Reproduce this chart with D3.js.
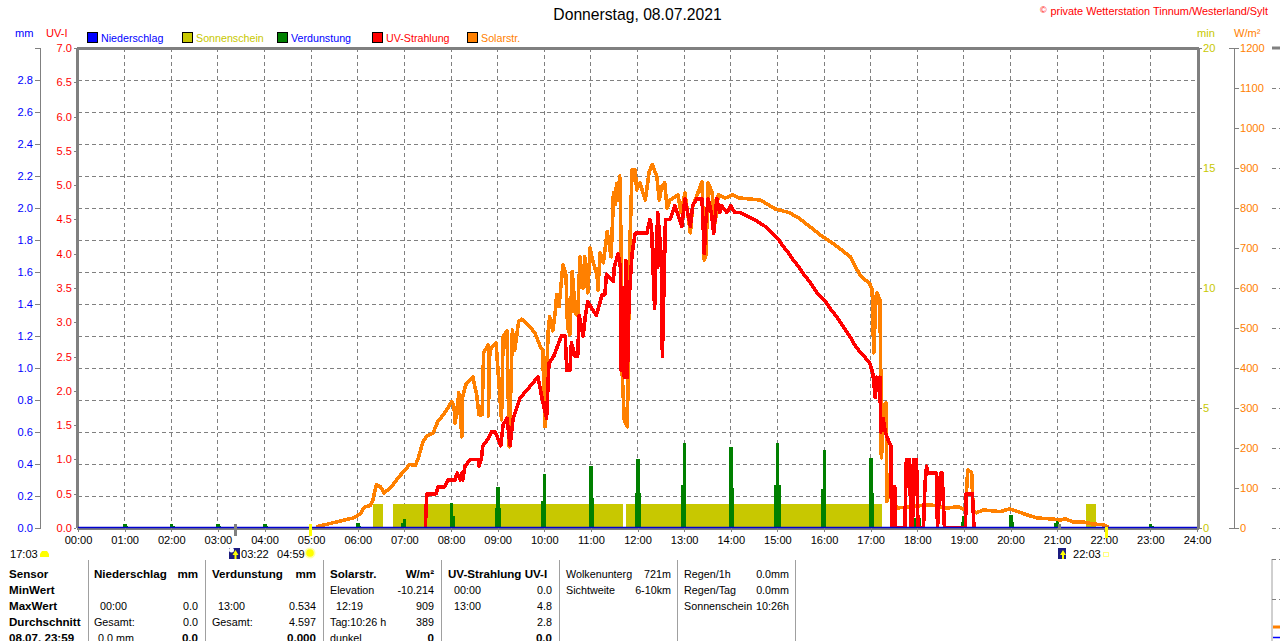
<!DOCTYPE html>
<html><head><meta charset="utf-8">
<script src="https://cdn.jsdelivr.net/npm/d3@7"></script>
<style>
html,body{margin:0;padding:0;background:#fff;overflow:hidden}
svg{display:block}
text{font-family:"Liberation Sans",Arial,sans-serif;font-size:11.1px}
text.l{font-size:10.7px}
text.t{font-size:10.75px}
text.b{font-weight:bold;font-size:11.6px}
</style></head><body>
<svg id="c" width="1280" height="641"></svg>
<script>
// ---- data (time in minutes of the day) ----
const hourTicks=d3.range(0,25);
const mmTicks=[0,.2,.4,.6,.8,1,1.2,1.4,1.6,1.8,2,2.2,2.4,2.6,2.8];
const uvTicks=[0,.5,1,1.5,2,2.5,3,3.5,4,4.5,5,5.5,6,6.5,7];
const minTicks=[0,5,10,15,20];
const wTicks=[0,100,200,300,400,500,600,700,800,900,1000,1100,1200];
const legendNames=["Niederschlag","Sonnenschein","Verdunstung","UV-Strahlung","Solarstr."];

const solarT=[307,328,354,363,369,376,379,384,389,394,402,414,427,434,438,444,449,457,463,472,481,484,485,488,490,494,495,499,508,513,516,520,522,528,528,530,538,545,547,552,555,559,562,567,571,579,588,595,598,601,605,607,611,614,616,619,624,628,630,633,636,640,643,646,650,652,656,659,663,668,669,672,676,681,686,688,689,691,693,695,697,698,700,703,707,709,710,713,717,719,723,730,735,739,745,748,751,755,758,762,772,776,781,788,791,803,806,808,811,816,820,824,833,843,851,878,897,916,929,955,974,994,1006,1019,1022,1024,1027,1028,1032,1033,1033,1034,1037,1040,1041,1045,1051,1054,1079,1097,1118,1133,1142,1145,1150,1152,1156,1165,1187,1199,1221,1234,1251,1264,1270,1281,1293,1306,1319,1326];
const solarV=[3,13,25,35,53,56,66,109,103,88,100,130,159,156,175,216,230,238,266,288,316,303,262,290,338,228,328,358,378,333,283,283,438,458,280,445,463,270,478,493,203,495,445,516,522,508,488,453,445,253,491,528,493,538,583,553,658,633,503,483,641,538,530,678,600,678,588,700,663,633,595,688,663,741,678,770,838,808,860,820,880,845,400,270,253,570,695,895,895,845,863,820,890,909,878,820,853,863,800,820,833,788,838,738,803,865,670,683,863,838,763,833,825,833,825,820,798,788,773,733,708,678,633,610,595,438,578,588,570,395,203,175,308,313,66,93,63,50,55,58,50,53,45,145,138,45,38,45,41,48,33,25,23,20,23,15,15,10,8,3];

const uvT=[447,448,449,461,463,472,476,485,488,492,494,495,498,505,515,516,519,521,528,532,537,544,547,552,556,560,569,577,584,592,597,603,606,612,622,627,629,633,635,640,643,645,650,653,656,667,672,674,678,680,689,690,695,698,699,701,703,705,707,709,713,717,732,736,738,742,745,746,746,751,752,756,762,768,777,781,788,791,796,803,806,808,811,815,818,822,826,828,835,840,845,852,870,884,893,902,908,915,921,928,934,941,947,953,962,968,975,981,987,993,998,1004,1012,1019,1023,1026,1028,1031,1032,1033,1036,1039,1042,1046,1047,1050,1051,1052,1064,1066,1070,1072,1074,1075,1079,1081,1088,1090,1092,1094,1105,1106,1110,1112,1115,1142,1143,1151,1153];
const uvV=[0,.3,.5,.5,.6,.6,.7,.7,.8,.7,.8,.7,.9,1,1,.9,1,1.2,1.3,1.4,1.4,1.2,1.5,1.6,1.2,1.6,1.9,2,2.1,2.2,1.9,1.6,2.4,2.5,2.8,2.8,2.3,2.3,2.7,2.5,2.5,3.1,2.8,3.1,3.3,3.1,3.3,3.4,3.4,3.7,3.6,3.8,4,3.8,2.3,3.5,2.2,3.9,2.2,3.3,4,4.3,4.3,4.5,4.4,3.2,4.4,3.8,4.6,3.9,2.5,4.5,4.5,4.7,4.4,4.8,4.4,4.7,4.8,4.8,4,4.5,4.8,4.6,4.3,4.8,4.6,4.7,4.6,4.7,4.6,4.6,4.5,4.4,4.3,4.2,4.1,4,3.9,3.8,3.7,3.6,3.5,3.4,3.3,3.2,3.1,3,2.9,2.8,2.7,2.6,2.5,2.4,2.25,1.9,2.2,2,2.2,1.4,1.6,1.4,1.3,1.2,0,0,.6,0,0,1,1,0,0,1,1,0,0,.65,.9,.8,.8,0,.8,.8,0,0,.5,.5,0];

const sunStart=[380,405,705,1297];
const sunEnd=[393,701,1034,1310];
const sunMinutes=[1,1,1,1];

const verdT=[60,120,180,240,360,420,480,540,600,660,720,780,840,900,960,1020,1080,1140,1200,1260,1320,1380];
const verdPeak=[.025,.025,.025,.025,.03,.056,.156,.256,.34,.39,.43,.534,.506,.53,.49,.44,.13,.077,.08,.056,.025,.025];
const verdShoulder=[.012,.012,.012,.012,.012,.03,.075,.127,.17,.185,.22,.27,.25,.27,.245,.22,.06,.04,.04,.03,.012,.012];
const verdSide=[1,1,1,1,1,-1,1,0,-1,1,0,-1,1,0,-1,1,0,-1,1,-1,1,1];

const rainT=[0,1440];
const rainV=[0,0];
const sunMarks=[299,1323];
const moonMarks=[202,1263];

const tableText=[
 [9,574,"Sensor","b"],[9,590,"MinWert","b"],[9,606,"MaxWert","b"],[9,622,"Durchschnitt","b"],[9,638,"08.07.  23:59","b"],
 [94,574,"Niederschlag","b"],[198,574,"mm","br"],[100,606,"00:00"],[198,606,"0.0","r"],[94,622,"Gesamt:"],[198,622,"0.0","r"],[98,638,"0.0 mm"],[198,638,"0.0","br"],
 [212,574,"Verdunstung","b"],[316,574,"mm","br"],[218,606,"13:00"],[316,606,"0.534","r"],[212,622,"Gesamt:"],[316,622,"4.597","r"],[316,638,"0.000","br"],
 [330,574,"Solarstr.","b"],[434,574,"W/m²","br"],[330,590,"Elevation"],[434,590,"-10.214","r"],[336,606,"12:19"],[434,606,"909","r"],[330,622,"Tag:10:26 h"],[434,622,"389","r"],[330,638,"dunkel"],[434,638,"0","br"],
 [448,574,"UV-Strahlung UV-I","b"],[454,590,"00:00"],[552,590,"0.0","r"],[454,606,"13:00"],[552,606,"4.8","r"],[552,622,"2.8","r"],[552,638,"0.0","br"],
 [566,574,"Wolkenunterg"],[671,574,"721m","r"],[566,590,"Sichtweite"],[671,590,"6-10km","r"],
 [684,574,"Regen/1h"],[789,574,"0.0mm","r"],[684,590,"Regen/Tag"],[789,590,"0.0mm","r"],[684,606,"Sonnenschein"],[789,606,"10:26h","r"]
];
const tableSeparators=[88,205.7,323,441.7,559.3,677,795.3];

// ---- layout & scales ----
const L=78,R=1197,T=48,B=528;
const svg=d3.select("#c");
const x=d3.scaleLinear().domain([0,1440]).range([L,R]);
const yMM=d3.scaleLinear().domain([0,3]).range([B,T]);
const yUV=d3.scaleLinear().domain([0,7]).range([B,T]);
const yMin=d3.scaleLinear().domain([0,20]).range([B,T]);
const yW=d3.scaleLinear().domain([0,1200]).range([B,T]);
const GR="#808080",OL="#c8c800",GN="#008000",RD="#ff0000",OR="#ff8000",BL="#0000ff";

// grid
const grid=svg.append("g").attr("stroke",GR).attr("stroke-dasharray","4 3").attr("shape-rendering","crispEdges");
grid.selectAll(".v").data(hourTicks.slice(1,24)).join("line").attr("x1",d=>x(d*60)).attr("x2",d=>x(d*60)).attr("y1",T).attr("y2",B);
grid.selectAll(".h").data(mmTicks.slice(1)).join("line").attr("x1",L).attr("x2",R).attr("y1",d=>yMM(d)).attr("y2",d=>yMM(d));
grid.selectAll(".w").data(wTicks.slice(0,-1)).join("line").attr("x1",1272).attr("x2",1280).attr("y1",d=>yW(d)).attr("y2",d=>yW(d));
svg.append("line").attr("x1",1272).attr("x2",1280).attr("y1",T).attr("y2",T).attr("stroke",GR).attr("stroke-width",3);

// sunshine
svg.append("g").attr("fill",OL).attr("shape-rendering","crispEdges").selectAll("rect").data(sunStart).join("rect")
 .attr("x",d=>x(d)).attr("width",(d,i)=>x(sunEnd[i])-x(d)).attr("y",(d,i)=>yMin(sunMinutes[i])).attr("height",(d,i)=>B-yMin(sunMinutes[i]));

// evaporation
const ev=svg.append("g").attr("fill",GN).attr("shape-rendering","crispEdges");
ev.selectAll(".p").data(verdT).join("rect").attr("x",d=>x(d)-1.5).attr("width",3.5).attr("y",(d,i)=>yMM(verdPeak[i])).attr("height",(d,i)=>B-yMM(verdPeak[i]));
ev.selectAll(".s").data(verdT).join("rect")
 .attr("x",(d,i)=>x(d)-1.5-(verdSide[i]<=0?1.5:0)).attr("width",(d,i)=>verdSide[i]===0?6.5:5)
 .attr("y",(d,i)=>yMM(verdShoulder[i])).attr("height",(d,i)=>B-yMM(verdShoulder[i]));

// lines
const lineSolar=d3.line().x((d,i)=>x(solarT[i])).y(d=>yW(d));
svg.append("path").datum(solarV).attr("d",lineSolar).attr("fill","none").attr("stroke",OR).attr("stroke-width",3.6).attr("stroke-linejoin","round").attr("shape-rendering","crispEdges");
const lineUV=d3.line().x((d,i)=>x(uvT[i])).y(d=>yUV(d));
svg.append("path").datum(uvV).attr("d",lineUV).attr("fill","none").attr("stroke",RD).attr("stroke-width",3.6).attr("stroke-linejoin","round").attr("shape-rendering","crispEdges");

// frame
const fr=svg.append("g").attr("stroke",GR).attr("shape-rendering","crispEdges");
fr.append("line").attr("x1",L-1).attr("x2",R+2).attr("y1",T).attr("y2",T).attr("stroke-width",3);
fr.append("line").attr("x1",L-1).attr("x2",L-1).attr("y1",T).attr("y2",B).attr("stroke-width",3);
fr.append("line").attr("x1",R+1).attr("x2",R+1).attr("y1",T).attr("y2",B).attr("stroke-width",3);
fr.append("line").attr("x1",L-1).attr("x2",R+2).attr("y1",B+1).attr("y2",B+1).attr("stroke-width",2);

// rain line
const lineRain=d3.line().x((d,i)=>x(rainT[i])).y(d=>yMM(d));
svg.append("path").datum(rainV).attr("d",lineRain).attr("stroke","#0000d0").attr("stroke-width",1.5).attr("fill","none").attr("transform","translate(0,-.6)");

// axes
function styleAxis(g,col,drawDomain){
 g.selectAll("text").attr("fill",col);
 g.selectAll("line").attr("stroke",GR).attr("shape-rendering","crispEdges");
 g.select(".domain").attr("stroke",drawDomain?GR:"none").attr("shape-rendering","crispEdges");
}
svg.append("g").attr("transform","translate(40,0)").call(d3.axisLeft(yMM).tickValues(mmTicks).tickFormat(d3.format(".1f")).tickSizeOuter(0).tickSize(5).tickPadding(2)).call(g=>styleAxis(g,BL,true));
svg.append("line").attr("x1",40.5).attr("x2",40.5).attr("y1",T).attr("y2",B).attr("stroke",GR).attr("shape-rendering","crispEdges");
svg.append("g").attr("transform","translate(76,0)").call(d3.axisLeft(yUV).tickValues(uvTicks).tickFormat(d3.format(".1f")).tickSizeOuter(0).tickSize(2).tickPadding(2)).call(g=>styleAxis(g,RD,false));
svg.append("g").attr("transform","translate(1198,0)").call(d3.axisRight(yMin).tickValues(minTicks).tickSizeOuter(0).tickSize(4).tickPadding(1)).call(g=>styleAxis(g,OL,false));
svg.append("g").attr("transform","translate(1234,0)").call(d3.axisRight(yW).tickValues(wTicks).tickFormat(d3.format("d")).tickSizeOuter(0).tickSize(5).tickPadding(1)).call(g=>styleAxis(g,OR,true));
svg.append("line").attr("x1",1229).attr("x2",1234).attr("y1",B+.5).attr("y2",B+.5).attr("stroke",GR);
svg.append("line").attr("x1",1229).attr("x2",1234).attr("y1",T+.5).attr("y2",T+.5).attr("stroke",GR);
svg.append("g").attr("transform",`translate(0,${B})`).call(d3.axisBottom(x).tickValues(hourTicks.map(h=>h*60)).tickFormat(d=>d3.format("02d")(d/60)+":00").tickSizeOuter(0).tickSize(4).tickPadding(4)).call(g=>styleAxis(g,"#000",false));

// title & captions
const tx=(xx,yy,s,col,anchor)=>svg.append("text").attr("x",xx).attr("y",yy).attr("fill",col||"#000").attr("text-anchor",anchor||"start").text(s);
tx(637.5,20,"Donnerstag, 08.07.2021").attr("text-anchor","middle").style("font-size","15.7px");
tx(1268,15,"private Wetterstation Tinnum/Westerland/Sylt",RD,"end").style("font-size","10.9px");
tx(1040,13,"©",RD).style("font-size","9px");
tx(15,37,"mm",BL);tx(46,37,"UV-I",RD);tx(1197,37,"min",OL);tx(1234,37,"W/m²",OR);

// legend
const legX=[87,182,277,372,467],legC=[BL,OL,GN,RD,OR],legT=[BL,OL,BL,RD,OR];
legendNames.forEach((n,i)=>{
 svg.append("rect").attr("x",legX[i]+.5).attr("y",32.5).attr("width",10).attr("height",10).attr("fill",legC[i]).attr("stroke","#000");
 tx(legX[i]+14,42,n,legT[i]).attr("class","l");
});

// sun & moon marks
const mk=svg.append("g").attr("shape-rendering","crispEdges");
mk.selectAll(".s").data(sunMarks).join("rect").attr("x",d=>x(d)-1).attr("width",3).attr("y",(d,i)=>i?527:524).attr("height",(d,i)=>i?11:12).attr("fill","#ffff00");
mk.selectAll(".m").data(moonMarks).join("rect").attr("x",d=>x(d)-1).attr("width",3).attr("y",524).attr("height",(d,i)=>i?6:12).attr("fill",GR);
tx(10,558,"17:03");tx(241,558,"03:22");tx(277,558,"04:59");tx(1073,558,"22:03");
svg.append("path").attr("d","M40 557 L40 554 L42 551 L47 551 L49 554 L49 557 Z").attr("fill","#ffff00");
svg.append("circle").attr("cx",310).attr("cy",553).attr("r",5.5).attr("fill","#ffff00").attr("opacity",.35);
svg.append("circle").attr("cx",310).attr("cy",553).attr("r",3.8).attr("fill","#ffff00");
[[229,548,11,11],[1058,548,8,11]].forEach(([a,b,w,h])=>{
 svg.append("rect").attr("x",a).attr("y",b).attr("width",w).attr("height",h).attr("fill","#1c1c80");
 svg.append("path").attr("d",`M${a+w/2+1} ${b+2} l3 5 h-2 v4 h-2 v-4 h-2 Z`).attr("fill","#ffff00");
});
svg.append("circle").attr("cx",231.5).attr("cy",550).attr("r",2.5).attr("fill","#fff");
svg.append("rect").attr("x",1103.5).attr("y",552.5).attr("width",5).attr("height",4).attr("fill","none").attr("stroke","#ffff80");

// summary table
svg.append("g").attr("stroke","#a0a0a0").attr("shape-rendering","crispEdges").selectAll("line").data(tableSeparators).join("line")
 .attr("x1",d=>d).attr("x2",d=>d).attr("y1",560).attr("y2",641);
tableText.forEach(([a,b,s,k])=>{
 const t=tx(a,b+4,s).attr("class",(k==="b"||k==="br")?"b":"t");
 if(k==="r"||k==="br")t.attr("text-anchor","end");
});

// neighbouring panel, cut off at the page edge
const np=svg.append("g");
np.append("line").attr("x1",1272).attr("x2",1272).attr("y1",559).attr("y2",641).attr("stroke","#a0a0a0");
np.selectAll(".d").data([559,599]).join("line").attr("x1",1272).attr("x2",1280).attr("y1",d=>d+.5).attr("y2",d=>d+.5).attr("stroke",GR).attr("stroke-dasharray","4 3");
np.append("path").attr("d","M1273 627 H1280").attr("stroke",OR).attr("stroke-width",3);
np.append("path").attr("d","M1273 637.5 H1280").attr("stroke",BL).attr("stroke-width",1.5);
</script>
</body></html>
